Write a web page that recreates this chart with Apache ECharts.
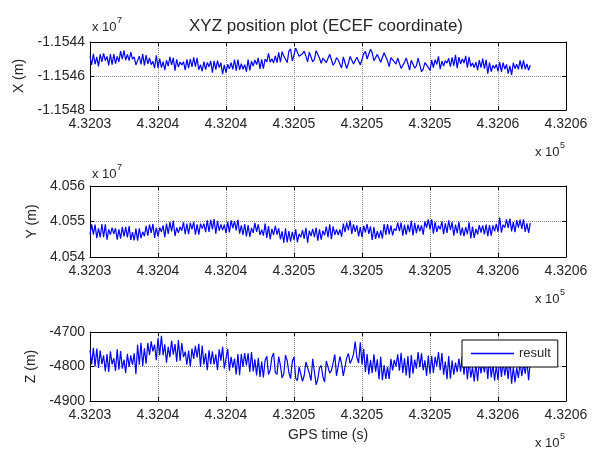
<!DOCTYPE html>
<html>
<head>
  <meta charset="UTF-8">
  <title>XYZ position plot (ECEF coordinate)</title>
  <script src="https://cdn.jsdelivr.net/npm/echarts@6/dist/echarts.min.js"></script>
  <style>body{margin:0;background:#fff}</style>
</head>
<body>
  <div id="main" style="width:598px;height:452px"></div>

  <script>
  // GPS time, seconds after 432030 s (two sample sets, merged by time)
  const timeA = [
    0,0.125,0.5,0.625,1,1.125,1.5,1.625,2,2.125,
    2.5,2.625,3,3.125,3.5,3.625,4,4.125,4.5,4.625,
    5,5.125,5.5,5.625,6,6.125,6.5,6.625,7,7.125,
    7.5,7.625,8,8.125,8.5,8.625,9,9.125,9.5,9.625,
    10,10.125,10.5,10.625,11,11.125,11.5,11.625,12,12.125,
    12.5,12.625,13,13.125,13.5,13.625,14,14.125,14.5,14.625,
    15,15.125,15.5,15.625,16,16.125,16.5,16.625,17,17.125,
    17.5,17.625,18,18.125,18.5,18.625,19,19.125,19.5,19.625,
    20,20.125,20.5,20.625,21,21.125,21.5,21.625,22,22.125,
    22.5,22.625,23,23.125,23.5,23.625,24,24.125,24.5,24.625,
    25,25.125,25.5,25.625,26,26.125,26.5,26.625,27,27.125,
    27.5,27.625,28,28.125,28.5,28.625,29,29.125,29.5,29.625,
    30,30.125,30.5,30.625,31,31.125,31.5,31.625,32,32.125
  ];
  const timeB = [
    0.375,0.25,0.875,0.75,1.375,1.25,1.875,1.75,2.375,2.25,
    2.875,2.75,3.375,3.25,3.875,3.75,4.375,4.25,4.875,4.75,
    5.375,5.25,5.875,5.75,6.375,6.25,6.875,6.75,7.375,7.25,
    7.875,7.75,8.375,8.25,8.875,8.75,9.375,9.25,9.875,9.75,
    10.375,10.25,10.875,10.75,11.375,11.25,11.875,11.75,12.375,12.25,
    12.875,12.75,13.375,13.25,13.875,13.75,14.375,14.25,14.875,14.75,
    15.375,15.25,15.875,15.75,16.375,16.25,16.875,16.75,17.375,17.25,
    17.875,17.75,18.375,18.25,18.875,18.75,19.375,19.25,19.875,19.75,
    20.375,20.25,20.875,20.75,21.375,21.25,21.875,21.75,22.375,22.25,
    22.875,22.75,23.375,23.25,23.875,23.75,24.375,24.25,24.875,24.75,
    25.375,25.25,25.875,25.75,26.375,26.25,26.875,26.75,27.375,27.25,
    27.875,27.75,28.375,28.25,28.875,28.75,29.375,29.25,29.875,29.75,
    30.375,30.25,30.875,30.75,31.375,31.25,31.875,31.75,32.375,32.25
  ];
  const timeTicks = ['4.3203','4.3204','4.3204','4.3205','4.3205','4.3205','4.3206','4.3206'];

  // ECEF X (m)
  const xPosA = [
    -11544850,-11545340,-11544880,-11545430,-11544670,-11545100,-11544710,-11545330,-11544850,-11545170,
    -11544500,-11545070,-11544600,-11545010,-11545350,-11544830,-11545370,-11544770,-11545330,-11545140,
    -11545520,-11544970,-11545660,-11545070,-11545340,-11544930,-11545480,-11545180,-11545660,-11545020,
    -11545470,-11544910,-11545630,-11545330,-11545620,-11545200,-11545810,-11545110,-11545510,-11545220,
    -11545800,-11545310,-11545610,-11545030,-11545640,-11545280,-11545740,-11545030,-11545410,-11545060,
    -11545580,-11545020,-11545170,-11544670,-11545230,-11544820,-11545190,-11544570,-11545210,-11544530,
    -11544750,-11544360,-11544930,-11544690,-11545170,-11544600,-11545040,-11544510,-11545250,-11544950,
    -11545300,-11544720,-11545220,-11544920,-11545530,-11544880,-11545250,-11544850,-11545310,-11544900,
    -11545330,-11544700,-11544930,-11544430,-11545070,-11544730,-11545090,-11544630,-11545450,-11544920,
    -11545300,-11544940,-11545500,-11545200,-11545660,-11545080,-11545410,-11544950,-11545600,-11545210,
    -11545680,-11545070,-11545320,-11544850,-11545410,-11545100,-11545450,-11544900,-11545540,-11544890,
    -11545240,-11544820,-11545440,-11545240,-11545660,-11545070,-11545570,-11545050,-11545750,-11545370,
    -11545730,-11545190,-11545600,-11545320,-11545930,-11545230,-11545610,-11545080,-11545600,-11545290
  ];
  const xPosB = [
    -11545310,-11544700,-11545170,-11544720,-11545380,-11544850,-11545270,-11544710,-11545010,-11544540,
    -11545100,-11544730,-11545350,-11544880,-11544710,-11545320,-11544940,-11545290,-11544780,-11545540,
    -11545160,-11545510,-11544880,-11545420,-11545020,-11545680,-11545160,-11545350,-11545000,-11545540,
    -11544930,-11545450,-11545160,-11545720,-11545120,-11545460,-11545090,-11545620,-11545340,-11545890,
    -11545210,-11545580,-11545030,-11545690,-11545330,-11545600,-11545130,-11545670,-11544940,-11545330,
    -11545000,-11545560,-11544990,-11545190,-11544610,-11545210,-11544710,-11544820,-11545120,-11544410,
    -11544840,-11544380,-11544830,-11544540,-11545160,-11544690,-11544960,-11544540,-11545210,-11544910,
    -11545370,-11544820,-11545300,-11545050,-11545560,-11544850,-11545290,-11544900,-11545340,-11544830,
    -11545000,-11544550,-11545100,-11544640,-11545190,-11544780,-11545100,-11544700,-11545170,-11544890,
    -11545550,-11545050,-11545280,-11544940,-11545530,-11545180,-11545740,-11545050,-11545490,-11545290,
    -11545040,-11545500,-11545120,-11545600,-11544960,-11545240,-11544750,-11545400,-11544990,-11545280,
    -11544880,-11545510,-11545190,-11545500,-11544980,-11545510,-11545210,-11545860,-11545320,-11545550,
    -11545210,-11545760,-11545400,-11545860,-11545310,-11545570,-11545080,-11545600,-11545360,-11545660
  ];
  const xTicks = ['-1.1548','-1.1546','-1.1544'];

  // ECEF Y (m)
  const yPosA = [
    40546300,40549200,40545300,40548100,40545600,40549200,40546300,40548300,40544900,40547800,
    40545800,40548500,40544800,40547000,40544600,40548100,40545900,40548800,40546800,40549300,
    40545800,40548300,40545600,40549400,40547200,40550200,40546800,40548500,40546400,40549400,
    40547800,40549900,40546300,40549400,40547000,40550300,40547800,40550700,40547400,40549200,
    40546700,40549900,40548100,40550100,40546600,40548900,40545800,40549000,40546800,40549600,
    40546200,40547700,40545400,40548700,40546200,40548800,40545000,40547200,40544100,40547300,
    40544800,40547800,40545600,40547600,40544000,40547400,40545600,40548300,40544900,40547400,
    40545600,40549200,40546200,40547800,40545700,40549400,40547500,40550300,40547100,40548900,
    40545600,40548800,40546500,40548600,40545100,40547300,40545200,40549300,40546400,40548900,
    40547400,40549700,40546000,40549100,40547000,40550200,40546700,40549100,40546300,40550000,
    40547800,40550600,40547100,40548800,40546400,40549500,40547600,40549800,40546700,40549900,
    40545900,40548400,40545200,40548600,40546400,40549000,40546400,40549100,40546000,40548900,
    40547100,40551100,40548300,40550600,40547200,40549800,40548300,40550500,40547100,40549500
  ];
  const yPosB = [
    40549100,40546300,40549300,40545500,40547800,40544900,40548100,40546500,40548500,40545200,
    40548700,40545500,40548000,40544700,40547100,40545300,40549100,40546000,40548300,40545400,
    40548900,40547100,40549800,40546500,40548300,40545900,40549800,40547400,40549600,40546400,
    40549200,40546300,40549400,40548000,40550500,40547100,40550100,40546600,40549100,40547600,
    40550300,40546900,40550500,40547500,40549300,40546200,40548200,40545700,40549200,40547100,
    40549400,40546000,40547900,40545000,40548100,40546300,40548100,40544000,40547100,40544300,
    40546500,40544200,40548200,40545200,40547900,40545900,40547800,40544600,40548600,40546100,
    40548600,40545000,40547800,40546200,40549700,40547000,40549200,40546500,40548400,40545800,
    40549300,40546900,40548400,40544800,40547500,40545300,40549300,40546200,40548000,40546100,
    40549700,40547300,40549100,40546300,40549600,40546100,40548900,40547200,40550600,40548300,
    40549800,40546600,40550000,40547800,40550300,40546800,40549100,40546000,40548300,40546100,
    40549800,40546400,40547900,40545400,40548900,40546900,40549000,40545900,40549300,40547200,
    40549100,40546900,40550800,40548200,40550400,40547000,40550600,40547900,40549600,40546800
  ];
  const yTicks = ['4.054','4.055','4.056'];

  // ECEF Z (m)
  const zPosA = [
    -4753,-4794,-4748,-4804,-4768,-4814,-4756,-4794,-4750,-4809,
    -4780,-4819,-4768,-4795,-4737,-4795,-4747,-4792,-4727,-4756,
    -4718,-4767,-4736,-4789,-4725,-4766,-4723,-4783,-4757,-4795,
    -4748,-4778,-4734,-4801,-4762,-4811,-4756,-4794,-4750,-4783,
    -4807,-4749,-4803,-4777,-4825,-4764,-4797,-4762,-4814,-4779,
    -4830,-4786,-4770,-4823,-4761,-4817,-4797,-4833,-4783,-4818,
    -4772,-4834,-4796,-4843,-4792,-4819,-4783,-4853,-4797,-4830,
    -4782,-4819,-4765,-4827,-4792,-4827,-4762,-4791,-4728,-4774,
    -4794,-4749,-4823,-4781,-4815,-4779,-4840,-4796,-4836,-4778,
    -4800,-4765,-4819,-4776,-4833,-4767,-4806,-4758,-4811,-4782,
    -4821,-4770,-4799,-4758,-4824,-4786,-4835,-4783,-4816,-4777,
    -4824,-4774,-4832,-4802,-4842,-4784,-4817,-4778,-4832,-4794,
    -4839,-4775,-4826,-4791,-4850,-4802,-4833,-4787,-4821,-4782
  ];
  const zPosB = [
    -4800,-4746,-4793,-4754,-4816,-4764,-4813,-4776,-4806,-4755,
    -4801,-4763,-4822,-4762,-4799,-4731,-4767,-4732,-4782,-4737,
    -4767,-4711,-4773,-4743,-4786,-4735,-4773,-4732,-4800,-4754,
    -4774,-4740,-4794,-4739,-4793,-4753,-4810,-4765,-4806,-4743,
    -4772,-4812,-4764,-4823,-4761,-4801,-4758,-4816,-4775,-4826,
    -4782,-4832,-4773,-4810,-4771,-4823,-4767,-4821,-4785,-4835,
    -4801,-4841,-4787,-4826,-4778,-4841,-4804,-4837,-4784,-4845,
    -4790,-4812,-4771,-4829,-4775,-4830,-4764,-4780,-4730,-4790,
    -4764,-4816,-4765,-4819,-4772,-4837,-4801,-4836,-4781,-4811,
    -4760,-4812,-4770,-4826,-4780,-4821,-4762,-4802,-4768,-4827,
    -4772,-4819,-4761,-4811,-4770,-4837,-4789,-4824,-4770,-4815,
    -4782,-4837,-4791,-4843,-4787,-4820,-4772,-4836,-4797,-4841,
    -4785,-4830,-4778,-4836,-4803,-4846,-4792,-4828,-4785,-4840
  ];
  const zTicks = ['-4900','-4800','-4700'];

  const font = 'Liberation Sans, Arial, sans-serif';
  const ink = '#262626';
  const blue = '#0000ff';

  const panels = [
    {name:'X (m)', series:'X', a:xPosA, b:xPosB, ticks:xTicks, min:-11548000, max:-11544000, step:2000, top:42, h:68, gap:60},
    {name:'Y (m)', series:'Y', a:yPosA, b:yPosB, ticks:yTicks, min:40540000, max:40560000, step:10000, top:186, h:71, gap:50},
    {name:'Z (m)', series:'result', a:zPosA, b:zPosB, ticks:zTicks, min:-4900, max:-4700, step:100, top:332, h:69, gap:42}
  ];

  const grid = [], xAxis = [], yAxis = [], series = [], graphic = [];
  const tick = {inside:true, length:4, lineStyle:{color:'#000'}};
  const line = {show:true, onZero:false, lineStyle:{color:'#000', width:1}};
  const dots = {show:true, lineStyle:{color:'#8a8a8a', type:'dotted', width:1}};
  const lab = {color:ink, fontFamily:font, fontSize:14};

  panels.forEach((p, i) => {
    grid.push({left:90, top:p.top, width:476, height:p.h});
    // bottom + top time axes (top one only for the box ticks)
    xAxis.push({type:'value', gridIndex:i, min:0, max:35, interval:5, axisLine:line, axisTick:tick,
      splitLine:dots, axisLabel:{...lab, margin:7, formatter:v => timeTicks[Math.round(v/5)]},
      name: i === 2 ? 'GPS time (s)' : '', nameLocation:'middle', nameGap:27,
      nameTextStyle:{color:ink, fontFamily:font, fontSize:14}});
    xAxis.push({type:'value', gridIndex:i, position:'top', min:0, max:35, interval:5, axisLine:line,
      axisTick:tick, splitLine:{show:false}, axisLabel:{show:false}});
    yAxis.push({type:'value', gridIndex:i, min:p.min, max:p.max, interval:p.step, axisLine:line, axisTick:tick,
      splitLine:dots, axisLabel:{...lab, margin:5, formatter:v => p.ticks[Math.round((v - p.min)/p.step)]},
      name:p.name, nameLocation:'middle', nameRotate:90, nameGap:p.gap,
      nameTextStyle:{color:ink, fontFamily:font, fontSize:14}});
    yAxis.push({type:'value', gridIndex:i, position:'right', min:p.min, max:p.max, interval:p.step,
      axisLine:line, axisTick:tick, splitLine:{show:false}, axisLabel:{show:false}});
    const pts = timeA.map((t, k) => [t, p.a[k]])
      .concat(timeB.map((t, k) => [t, p.b[k]]))
      .sort((u, w) => u[0] - w[0]);
    series.push({name:p.series, type:'line', xAxisIndex:2*i, yAxisIndex:2*i, symbol:'none',
      lineStyle:{color:blue, width:1.2}, itemStyle:{color:blue}, data:pts});
  });

  // "x 10^n" multiplier labels
  function power(x, y, n) {
    graphic.push({type:'text', left:x, top:y, style:{text:'x 10', fill:ink, font:'13px ' + font}});
    graphic.push({type:'text', left:x + 25, top:y - 5, style:{text:n, fill:ink, font:'9px ' + font}});
  }
  power(92, 21, '7');
  power(92, 168, '7');
  panels.forEach(p => power(535, p.top + p.h + 36, '5'));

  const chart = echarts.init(document.getElementById('main'));
  chart.setOption({
    animation:false,
    backgroundColor:'#fff',
    title:{text:'XYZ position plot (ECEF coordinate)', left:189, top:18, padding:0,
      textStyle:{color:ink, fontFamily:font, fontSize:17, fontWeight:'normal'}},
    legend:{data:['result'], left:462, top:340, icon:'rect', itemWidth:43, itemHeight:1.5,
      itemStyle:{color:blue, borderWidth:0},
      padding:[7,7,7,9], backgroundColor:'#fff', borderColor:'#000', borderWidth:1, borderRadius:0,
      textStyle:{color:ink, fontFamily:font, fontSize:13}},
    grid, xAxis, yAxis, series, graphic
  });
  </script>
</body>
</html>
